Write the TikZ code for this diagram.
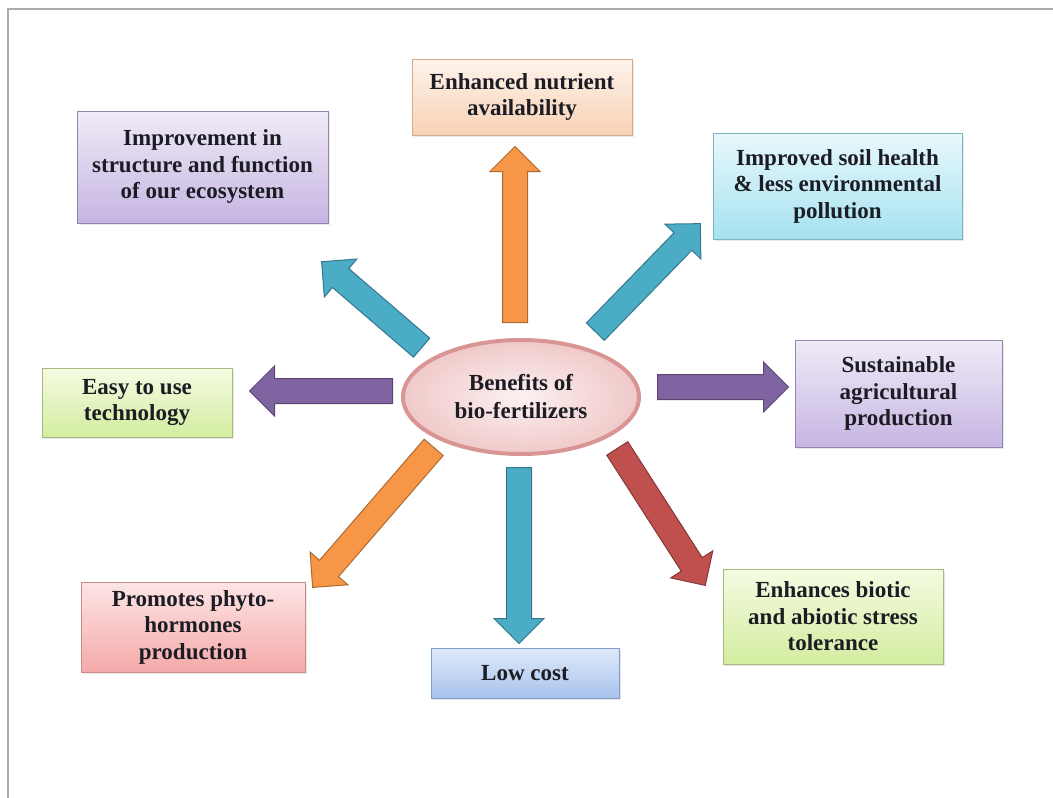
\documentclass[tikz,border=0pt]{standalone}
\usepackage{fontspec}
\setmainfont{Liberation Serif}
\usetikzlibrary{calc,shapes.geometric,shapes.arrows,shadows}
\definecolor{txt}{HTML}{1C1C24}
\definecolor{framecol}{HTML}{ABABAB}
\definecolor{tealarr}{HTML}{4BACC6}
\definecolor{orarr}{HTML}{F79646}
\definecolor{purarr}{HTML}{8064A2}
\definecolor{redarr}{HTML}{C0504D}
\definecolor{hubline}{HTML}{D99594}
\definecolor{hubin}{HTML}{FCF0F0}
\definecolor{hubout}{HTML}{F0C9C9}
\definecolor{lavtop}{HTML}{F0EBF7}
\definecolor{lavbot}{HTML}{C6B5E2}
\definecolor{lavline}{HTML}{9485AE}
\definecolor{peachtop}{HTML}{FDF3EB}
\definecolor{peachbot}{HTML}{F8D2B4}
\definecolor{peachline}{HTML}{D6A98C}
\definecolor{cyantop}{HTML}{E8F8FC}
\definecolor{cyanbot}{HTML}{A5E2F0}
\definecolor{cyanline}{HTML}{7FB3C2}
\definecolor{greentop}{HTML}{F5FBE2}
\definecolor{greenbot}{HTML}{D3EDA0}
\definecolor{greenline}{HTML}{A6B97E}
\definecolor{bluetop}{HTML}{DFE9F9}
\definecolor{bluebot}{HTML}{A8C3EE}
\definecolor{blueline}{HTML}{7F9CCB}
\definecolor{pinktop}{HTML}{FDE5E5}
\definecolor{pinkbot}{HTML}{F5A9A9}
\definecolor{pinkline}{HTML}{C98B8B}
\tikzset{
  every picture/.style={x=1pt, y=-1pt},
  box/.style={rectangle, line width=1pt, align=center, inner sep=2pt, text=txt,
    font=\bfseries\fontsize{23}{26.5}\selectfont,
    drop shadow={opacity=0.18, shadow xshift=2pt, shadow yshift=-2pt}},
  lav/.style={box, draw=lavline, top color=lavtop, bottom color=lavbot},
  peach/.style={box, draw=peachline, top color=peachtop, bottom color=peachbot},
  cyan/.style={box, draw=cyanline, top color=cyantop, bottom color=cyanbot},
  green/.style={box, draw=greenline, top color=greentop, bottom color=greenbot},
  blue/.style={box, draw=blueline, top color=bluetop, bottom color=bluebot},
  pink/.style={box, draw=pinkline, top color=pinktop, bottom color=pinkbot},
  fatarr/.style={single arrow, inner xsep=0pt, inner ysep=12pt,
    single arrow head extend=12.5pt, line width=1pt},
}
% fat arrow from one coordinate to another: name, colour, tail, tip
\newcommand{\fatarrow}[4]{%
  \path let \p1=($(#4)-(#3)$), \n1={atan2(\y1,\x1)}, \n2={veclen(\x1,\y1)} in
    node[fatarr, fill=#2, draw=#2!70!black, rotate=\n1, minimum height=\n2,
      anchor=tail] (#1) at (#3) {};}

\begin{document}
\begin{tikzpicture}
  \useasboundingbox (0,0) rectangle (1053,798);
  \draw[framecol, line width=1.5pt] (8,798) -- (8,9) -- (1053,9);

  % centre
  \node[ellipse, draw=hubline, line width=4pt, inner color=hubin, outer color=hubout,
    minimum width=236, minimum height=114, align=center, text=txt,
    font=\bfseries\fontsize{23}{28}\selectfont] (hub) at (521,397) {Benefits of\\bio-fertilizers};

  % benefits
  \node[lav, minimum width=251, minimum height=112] (imp) at (202.5,167)
    {Improvement in\\structure and function\\of our ecosystem};
  \node[peach, minimum width=220, minimum height=76] (nut) at (522,97)
    {Enhanced nutrient\\availability};
  \node[cyan, minimum width=249, minimum height=106] (soil) at (837.5,186)
    {Improved soil health\\\& less environmental\\pollution};
  \node[lav, minimum width=207, minimum height=107] (sus) at (898.5,393.5)
    {Sustainable\\agricultural\\production};
  \node[green, minimum width=220, minimum height=95] (bio) at (833,616.5)
    {Enhances biotic\\and abiotic stress\\tolerance};
  \node[blue, minimum width=188, minimum height=50] (cost) at (525,673) {Low cost};
  \node[pink, minimum width=224, minimum height=90] (phy) at (193,627)
    {Promotes phyto-\\hormones\\production};
  \node[green, minimum width=190, minimum height=69] (easy) at (137,402.5)
    {Easy to use\\technology};

  % arrow ends
  \coordinate (ul-t) at (422,348); \coordinate (ul-h) at (322,262);
  \coordinate (up-t) at (515,323); \coordinate (up-h) at (515,147);
  \coordinate (ur-t) at (595,332); \coordinate (ur-h) at (700,224);
  \coordinate (rt-t) at (657,387); \coordinate (rt-h) at (788,387);
  \coordinate (dr-t) at (617,448); \coordinate (dr-h) at (705,585);
  \coordinate (dn-t) at (519,467); \coordinate (dn-h) at (519,643);
  \coordinate (dl-t) at (434,447); \coordinate (dl-h) at (313,587);
  \coordinate (lt-t) at (393,391); \coordinate (lt-h) at (250,391);

  \fatarrow{a-imp}{tealarr}{ul-t}{ul-h}
  \fatarrow{a-nut}{orarr}{up-t}{up-h}
  \fatarrow{a-soil}{tealarr}{ur-t}{ur-h}
  \fatarrow{a-sus}{purarr}{rt-t}{rt-h}
  \fatarrow{a-bio}{redarr}{dr-t}{dr-h}
  \fatarrow{a-cost}{tealarr}{dn-t}{dn-h}
  \fatarrow{a-phy}{orarr}{dl-t}{dl-h}
  \fatarrow{a-easy}{purarr}{lt-t}{lt-h}
\end{tikzpicture}
\end{document}
